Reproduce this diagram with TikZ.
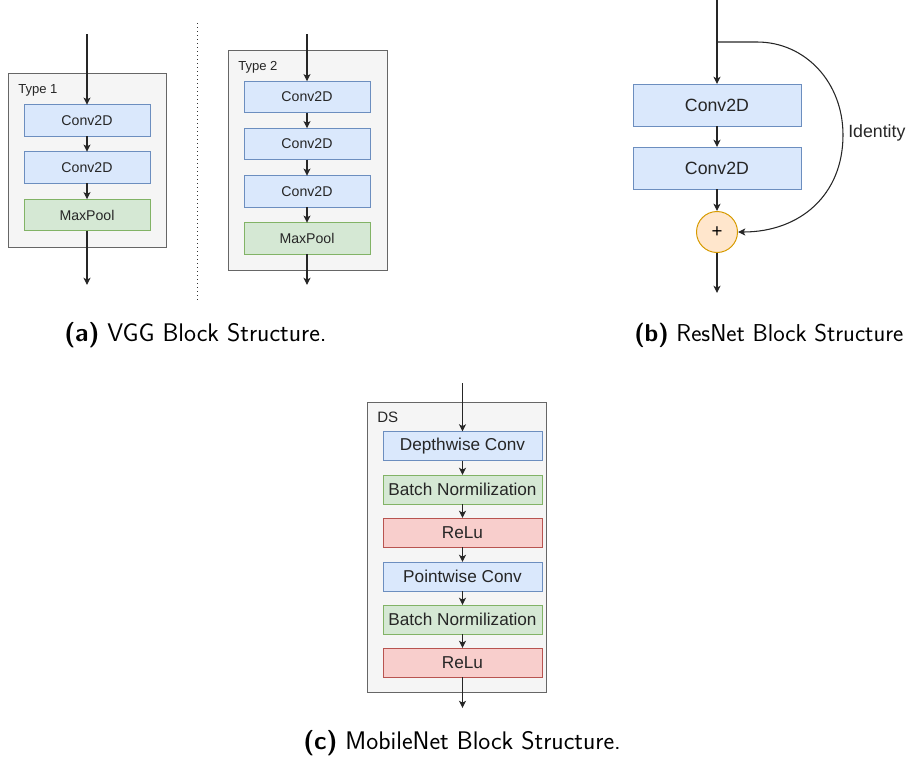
\documentclass[tikz,border=0pt]{standalone}
\usepackage{fontspec}
\newfontfamily\diagfont{Liberation Sans}
\usetikzlibrary{arrows.meta}

\definecolor{blueF}{HTML}{DAE8FC}\definecolor{blueD}{HTML}{6C8EBF}
\definecolor{greenF}{HTML}{D5E8D4}\definecolor{greenD}{HTML}{82B366}
\definecolor{redF}{HTML}{F8CECC}\definecolor{redD}{HTML}{B85450}
\definecolor{orangeF}{HTML}{FFE6CC}\definecolor{orangeD}{HTML}{D79B00}
\definecolor{groupF}{HTML}{F5F5F5}\definecolor{groupD}{HTML}{666666}

\tikzset{
  px/.style={x=0.75pt,y=-0.75pt},
  layer/.style={draw, line width=0.75pt, inner sep=0pt, outer sep=0pt,
                font=\diagfont, text=black!85},
  conv/.style={layer, fill=blueF, draw=blueD},
  pool/.style={layer, fill=greenF, draw=greenD},
  relu/.style={layer, fill=redF, draw=redD},
  group/.style={draw=groupD, fill=groupF, line width=0.75pt, inner sep=0pt, outer sep=0pt},
  grouplabel/.style={anchor=west, inner sep=0pt, font=\diagfont, text=black!85},
  blocka/.style={minimum width=94.5pt, minimum height=23.6pt, font=\diagfont\fontsize{10.6}{12}\selectfont},
  blockb/.style={minimum width=126pt, minimum height=31.5pt, font=\diagfont\fontsize{13.3}{15}\selectfont},
  blockc/.style={minimum width=119.25pt, minimum height=21.75pt, font=\diagfont\fontsize{12.9}{15}\selectfont},
  flow/.style={draw=black!85, line width=0.8pt, -{Stealth[length=5.4pt,width=5.2pt,inset=1.3pt]}},
  caption/.style={inner sep=0pt, anchor=base west, font=\sffamily\fontsize{19.1}{22}\selectfont}
}

\begin{document}
\begin{tikzpicture}[px]
\useasboundingbox (0,0) rectangle (910,758);

% ---------------- VGG, type 1 ----------------
\node[group, minimum width=118.5pt, minimum height=130.5pt] (g1) at (87,160) {};
\node[grouplabel, font=\diagfont\fontsize{9.8}{11}\selectfont] (g1lab) at (18,90) {Type 1};
\node[conv, blocka] (a1) at (87,120.5) {Conv2D};
\node[conv, blocka] (a2) at (87,167.5) {Conv2D};
\node[pool, blocka] (a3) at (87,215) {MaxPool};
\coordinate (a0) at (87,34);
\coordinate (a4) at (87,285);
\draw[flow] (a0) -- (a1);
\draw[flow] (a1) -- (a2);
\draw[flow] (a2) -- (a3);
\draw[flow] (a3) -- (a4);

% separator between the two VGG variants
\coordinate (sepT) at (197,23);
\coordinate (sepB) at (197,300);
\draw[black!80, line width=0.75pt, dash pattern=on 0.75pt off 2.25pt] (sepT) -- (sepB);

% ---------------- VGG, type 2 ----------------
\node[group, minimum width=119.25pt, minimum height=165pt] (g2) at (307.5,160) {};
\node[grouplabel, font=\diagfont\fontsize{9.8}{11}\selectfont] (g2lab) at (238,67) {Type 2};
\node[conv, blocka] (b1) at (307,97) {Conv2D};
\node[conv, blocka] (b2) at (307,144) {Conv2D};
\node[conv, blocka] (b3) at (307,191.5) {Conv2D};
\node[pool, blocka] (b4) at (307,238.5) {MaxPool};
\coordinate (b0) at (307,34);
\coordinate (b5) at (307,285);
\draw[flow] (b0) -- (b1);
\draw[flow] (b1) -- (b2);
\draw[flow] (b2) -- (b3);
\draw[flow] (b3) -- (b4);
\draw[flow] (b4) -- (b5);

% ---------------- ResNet block ----------------
\node[conv, blockb] (r1) at (717,105) {Conv2D};
\node[conv, blockb] (r2) at (717,168) {Conv2D};
\node[circle, draw=orangeD, fill=orangeF, line width=0.75pt, minimum size=30.75pt,
      inner sep=0pt, font=\diagfont\fontsize{14}{16}\selectfont] (sum) at (717,232) {+};
\coordinate (r0) at (717,0);
\coordinate (rsplit) at (717,42);
\coordinate (rout) at (717,293);
\draw[flow] (r0) -- (r1);
\draw[flow] (r1) -- (r2);
\draw[flow] (r2) -- (sum);
\draw[flow] (sum) -- (rout);
\draw[flow] (rsplit) -- (757,42) .. controls (805,42) and (843,82) .. (843,135)
      .. controls (843,195) and (800,232) .. (sum.east);
\node[inner sep=0pt, anchor=west, font=\diagfont\fontsize{13.3}{15}\selectfont, text=black!85]
      (idlab) at (848,133) {Identity};

% ---------------- MobileNet depthwise-separable block ----------------
\node[group, minimum width=134.25pt, minimum height=217.5pt] (g3) at (456.5,547) {};
\node[grouplabel, font=\diagfont\fontsize{11.3}{13}\selectfont] (g3lab) at (377,417) {DS};
\node[conv, blockc] (m1) at (462.5,446) {Depthwise Conv};
\node[pool, blockc] (m2) at (462.5,489.5) {Batch Normilization};
\node[relu, blockc] (m3) at (462.5,532.5) {ReLu};
\node[conv, blockc] (m4) at (462.5,576.5) {Pointwise Conv};
\node[pool, blockc] (m5) at (462.5,619.5) {Batch Normilization};
\node[relu, blockc] (m6) at (462.5,662.5) {ReLu};
\coordinate (m0) at (462.5,383);
\coordinate (m7) at (462.5,708);
\draw[flow] (m0) -- (m1);
\draw[flow] (m1) -- (m2);
\draw[flow] (m2) -- (m3);
\draw[flow] (m3) -- (m4);
\draw[flow] (m4) -- (m5);
\draw[flow] (m5) -- (m6);
\draw[flow] (m6) -- (m7);

% ---------------- captions ----------------
\node[caption] (capa) at (64,341) {\textbf{(a)} VGG Block Structure.};
\node[caption, font=\sffamily\fontsize{18.3}{21}\selectfont] (capb) at (634,341) {\textbf{(b)} ResNet Block Structure};
\node[caption] (capc) at (303,749) {\textbf{(c)} MobileNet Block Structure.};
\end{tikzpicture}
\end{document}
